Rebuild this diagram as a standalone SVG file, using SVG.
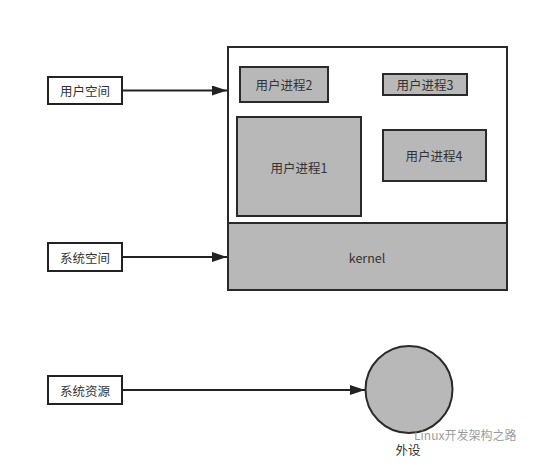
<svg xmlns="http://www.w3.org/2000/svg" width="539" height="465" viewBox="0 0 539 465">
<style>
.lbl{fill:#fff;stroke:#222;stroke-width:2}
.proc{fill:#b8b8b8;stroke:#2a2a2a;stroke-width:2}
.t{font-family:"Noto Sans CJK SC","Liberation Sans",sans-serif;font-size:12.5px;fill:#333;text-anchor:middle;dominant-baseline:central}
.c{stroke:#222;stroke-width:2;fill:none}
</style>
<defs>
<marker id="ah" viewBox="0 0 10 10" refX="10" refY="5" markerWidth="15" markerHeight="10" markerUnits="userSpaceOnUse" orient="auto" preserveAspectRatio="none">
<path d="M0,0 L10,5 L0,10 Z" fill="#222"/>
</marker>
</defs>
<rect width="539" height="465" fill="#fff"/>
<g id="container">
<rect x="228" y="47" width="279" height="243" fill="#fff" stroke="#2a2a2a" stroke-width="2"/>
</g>
<g id="kernel">
<rect class="proc" x="228" y="223" width="279" height="67"/>
<text class="t" x="367" y="257">kernel</text>
</g>
<g id="proc2">
<rect class="proc" x="240" y="67" width="88" height="35"/>
<text class="t" x="284" y="84.5">用户进程2</text>
</g>
<g id="proc3">
<rect class="proc" x="383" y="74" width="84" height="21"/>
<text class="t" x="425" y="84.5">用户进程3</text>
</g>
<g id="proc1">
<rect class="proc" x="237" y="117" width="124" height="99"/>
<text class="t" x="299" y="167">用户进程1</text>
</g>
<g id="proc4">
<rect class="proc" x="383" y="130" width="103" height="51"/>
<text class="t" x="434" y="155.5">用户进程4</text>
</g>
<g id="userspace">
<rect class="lbl" x="48" y="77" width="74" height="27"/>
<text class="t" x="85" y="90.5">用户空间</text>
</g>
<g id="sysspace">
<rect class="lbl" x="48" y="243" width="74" height="28"/>
<text class="t" x="85" y="257">系统空间</text>
</g>
<g id="sysres">
<rect class="lbl" x="48" y="376" width="74" height="28"/>
<text class="t" x="85" y="390">系统资源</text>
</g>
<g id="device">
<circle cx="409" cy="389.5" r="43.5" fill="#b8b8b8" stroke="#2a2a2a" stroke-width="2"/>
<text class="t" x="408" y="449">外设</text>
</g>
<g id="connectors">
<line class="c" x1="122" y1="90.5" x2="227" y2="90.5" marker-end="url(#ah)"/>
<line class="c" x1="122" y1="257" x2="227" y2="257" marker-end="url(#ah)"/>
<line class="c" x1="122" y1="390" x2="365" y2="390" marker-end="url(#ah)"/>
</g>
<g id="watermark">
<text x="414" y="434" font-family="Noto Sans CJK SC,sans-serif" font-size="12" fill="#888" fill-opacity="0.85" dominant-baseline="central">Linux开发架构之路</text>
</g>
</svg>
